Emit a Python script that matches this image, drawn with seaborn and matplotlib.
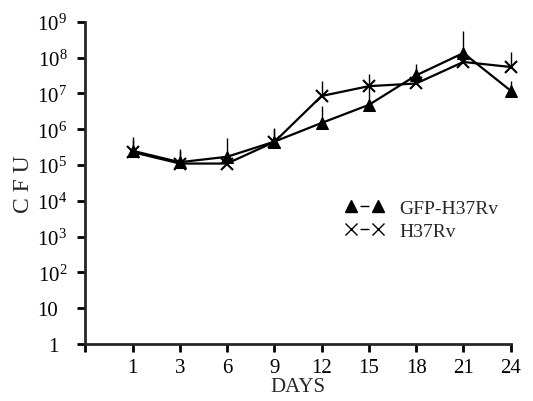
import numpy as np
import matplotlib
matplotlib.use("Agg")
import matplotlib.pyplot as plt
import matplotlib.transforms as mtransforms
import seaborn as sns
from matplotlib.lines import Line2D

days = ["1", "3", "6", "9", "12", "15", "18", "21", "24"]

# GFP-H37Rv (triangles): mean and top of the upper error bar
gfp_cfu = [2.5e5, 1.2e5, 1.7e5, 4.5e5, 1.5e6, 4.8e6, 3.2e7, 1.35e8, 1.2e7]
gfp_top = [6.0e5, 2.8e5, 5.6e5, 1.1e6, 4.5e6, 1.6e7, 6.5e7, 5.5e8, 2.3e7]

# H37Rv (crosses)
h37_cfu = [2.3e5, 1.1e5, 1.1e5, 4.4e5, 8.5e6, 1.6e7, 1.9e7, 7.6e7, 5.5e7]
h37_top = [5.0e5, 2.5e5, 2.0e5, 1.0e6, 2.3e7, 3.5e7, 4.8e7, 1.6e8, 1.45e8]

ytick_vals = [1, 10, 1e2, 1e3, 1e4, 1e5, 1e6, 1e7, 1e8, 1e9]
ytick_labels = ["1", "10", r"$\mathrm{10^{2}}$", r"$\mathrm{10^{3}}$", r"$\mathrm{10^{4}}$",
                r"$\mathrm{10^{5}}$", r"$\mathrm{10^{6}}$", r"$\mathrm{10^{7}}$",
                r"$\mathrm{10^{8}}$", r"$\mathrm{10^{9}}$"]

sns.set_theme(style="ticks")
plt.rcParams['font.family'] = ['Liberation Serif', 'DejaVu Serif']
plt.rcParams['mathtext.fontset'] = 'custom'
plt.rcParams['mathtext.rm'] = 'Liberation Serif'

pos = np.arange(1, len(days) + 1)

fig, ax = plt.subplots(figsize=(5.33, 4.02), dpi=100)
fig.subplots_adjust(left=0.16, right=0.958, top=0.943, bottom=0.142)

sns.lineplot(x=pos, y=gfp_cfu, marker='^', color='black', linewidth=1.6,
             markersize=9, markeredgecolor='black', clip_on=False, ax=ax)
sns.lineplot(x=pos, y=h37_cfu, marker='x', color='black', linewidth=1.6,
             markersize=9, markeredgewidth=1.5, markeredgecolor='black',
             clip_on=False, ax=ax)

for vals, tops in [(gfp_cfu, gfp_top), (h37_cfu, h37_top)]:
    vals = np.array(vals)
    up = np.array(tops) - vals
    eb = ax.errorbar(pos, vals, yerr=[np.zeros_like(vals), up], fmt='none',
                     ecolor='black', elinewidth=1.0, capsize=0)
    for c in eb.lines[2]:
        c.set_clip_on(False)

ax.set_yscale('log')
ax.set_ylim(1, 1e9)
ax.set_yticks(ytick_vals)
ax.set_yticklabels(ytick_labels)
ax.minorticks_off()
ax.set_xlim(0, len(days))
ax.set_xticks(range(0, len(days) + 1))
ax.set_xticklabels([""] + days)

for s in ['top', 'right']:
    ax.spines[s].set_visible(False)
for s in ['left', 'bottom']:
    ax.spines[s].set_linewidth(2)
ax.tick_params(axis='both', direction='out', length=6, width=2, labelsize=15,
               colors='black')
ax.tick_params(axis='x', pad=4)
ax.tick_params(axis='y', pad=7)

# plain "1" and "10" line up with the base digits of the powers
shift = mtransforms.ScaledTranslation(-9 / 100, 0, fig.dpi_scale_trans)
for lab in ax.get_yticklabels()[:2]:
    lab.set_transform(lab.get_transform() + shift)

ax.set_xlabel('DAYS', fontsize=15, labelpad=0)
ax.set_ylabel('C F U', fontsize=17, labelpad=2)

dash = (0, (0.01, 6.5, 6.4, 100))
handles = [Line2D([], [], color='black', marker='^', markersize=8, lw=1, ls=dash),
           Line2D([], [], color='black', marker='x', markersize=8, lw=1,
                  markeredgewidth=1, ls=dash)]
ax.legend(handles, ['GFP-H37Rv', 'H37Rv'], numpoints=2, frameon=False,
          loc='upper left', bbox_to_anchor=(0.61, 0.448), fontsize=14,
          borderpad=0, borderaxespad=0, handlelength=2.0, handletextpad=0.82,
          labelspacing=0.25)

fig.savefig('out.png', dpi=100)
